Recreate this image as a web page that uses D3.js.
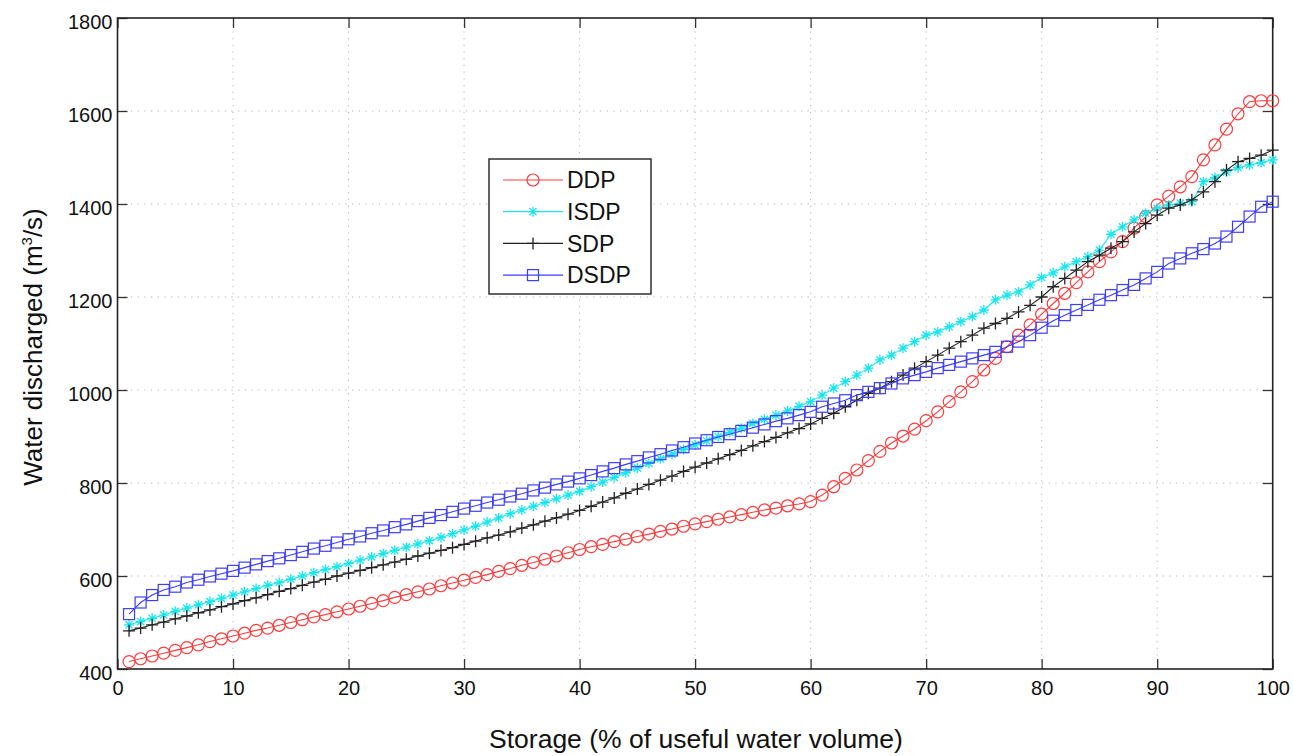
<!DOCTYPE html>
<html>
<head>
<meta charset="utf-8">
<script src="https://cdn.jsdelivr.net/npm/d3@7"></script>
<style>
  html, body { margin: 0; padding: 0; background: #fff; }
  svg { display: block; font-family: "Liberation Sans", Arial, Helvetica, sans-serif; }
</style>
</head>
<body>
<svg id="chart" width="1293" height="756"></svg>
<script>
// ---- Data ----
const storage = d3.range(1, 101); // % of useful water volume (1..100)

const ddp = [
  416, 422, 428, 434, 440, 446, 452, 459, 465, 471,
  477, 483, 488, 494, 500, 506, 512, 517, 523, 529,
  535, 541, 547, 554, 560, 566, 572, 579, 585, 591,
  597, 603, 610, 616, 623, 629, 636, 643, 650, 657,
  663, 668, 674, 679, 685, 690, 696, 701, 707, 712,
  717, 722, 727, 732, 737, 742, 746, 751, 755, 760,
  774, 792, 810, 828, 848, 868, 886, 901, 916, 934,
  953, 975, 996, 1018, 1043, 1068, 1093, 1118, 1140, 1163,
  1186, 1208, 1231, 1254, 1276, 1297, 1319, 1348, 1373, 1398,
  1417, 1437, 1459, 1495, 1527, 1561, 1594, 1620, 1622, 1622
];

const isdp = [
  495, 502, 509, 516, 524, 531, 538, 545, 552, 559,
  566, 573, 580, 586, 593, 600, 607, 614, 620, 627,
  634, 641, 648, 655, 662, 669, 676, 683, 691, 699,
  707, 716, 725, 734, 742, 750, 758, 766, 774, 782,
  792, 802, 812, 822, 832, 842, 852, 862, 872, 882,
  891, 900, 909, 918, 928, 937, 946, 955, 965, 975,
  989, 1004, 1018, 1032, 1047, 1065, 1075, 1090, 1104, 1118,
  1125, 1136, 1147, 1158, 1172, 1194, 1204, 1211, 1226, 1242,
  1252, 1265, 1276, 1287, 1301, 1335, 1351, 1366, 1380, 1391,
  1398, 1402, 1405, 1448, 1457, 1469, 1478, 1484, 1489, 1495
];

const sdp = [
  482, 488, 495, 501, 508, 514, 521, 527, 534, 540,
  547, 553, 560, 567, 573, 580, 587, 593, 600, 606,
  612, 618, 624, 630, 636, 643, 649, 655, 661, 668,
  675, 682, 688, 695, 703, 710, 718, 725, 733, 741,
  750, 759, 768, 778, 787, 797, 806, 815, 825, 834,
  843, 852, 861, 870, 880, 889, 898, 908, 917, 927,
  939, 950, 964, 978, 993, 1004, 1018, 1032, 1047, 1061,
  1075, 1090, 1104, 1118, 1133, 1143, 1154, 1168, 1182, 1200,
  1222, 1240, 1258, 1276, 1290, 1305, 1319, 1340, 1358, 1376,
  1391, 1398, 1409, 1426, 1448, 1473, 1491, 1498, 1505, 1516
];

const dsdp = [
  518, 543, 559, 570, 577, 586, 592, 599, 605, 611,
  618, 625, 632, 638, 645, 652, 659, 665, 672, 679,
  685, 692, 698, 705, 711, 718, 725, 731, 738, 745,
  751, 758, 764, 771, 777, 784, 790, 797, 803, 810,
  817, 825, 832, 840, 847, 855, 862, 870, 877, 885,
  892, 899, 905, 912, 919, 926, 933, 939, 946, 953,
  964, 971, 978, 989, 996, 1004, 1014, 1025, 1032, 1039,
  1047, 1054, 1061, 1068, 1075, 1082, 1093, 1104, 1118, 1134,
  1149, 1161, 1172, 1183, 1194, 1204, 1215, 1226, 1240, 1254,
  1272, 1283, 1294, 1303, 1315, 1330, 1351, 1373, 1394, 1405
];

const seriesNames = ["DDP", "ISDP", "SDP", "DSDP"];
const seriesValues = [ddp, isdp, sdp, dsdp];
const seriesColors = ["#ff3b3b", "#19e6ec", "#222222", "#3d3dff"];
const seriesMarkers = ["circle", "star", "plus", "square"];

const xTicks = [0, 10, 20, 30, 40, 50, 60, 70, 80, 90, 100];
const yTicks = [400, 600, 800, 1000, 1200, 1400, 1600, 1800];

const xLabel = "Storage (% of useful water volume)";

// ---- Layout ----
const svg = d3.select("#chart");
const L = 117.5, R = 1272.7, T = 18, B = 669;

const x = d3.scaleLinear().domain([0, 100]).range([L, R]);
const y = d3.scaleLinear().domain([400, 1800]).range([B, T]);

// Grid
const grid = svg.append("g").attr("stroke", "#b5b5b5").attr("stroke-width", 1)
  .attr("stroke-dasharray", "1.2,5.5");
grid.selectAll("line.v").data(xTicks.slice(1, -1)).join("line")
  .attr("x1", d => x(d)).attr("x2", d => x(d)).attr("y1", T).attr("y2", B);
grid.selectAll("line.h").data(yTicks.slice(1, -1)).join("line")
  .attr("x1", L).attr("x2", R).attr("y1", d => y(d)).attr("y2", d => y(d));

// Axes (inward ticks)
const fmt = d3.format("d");
const axB = svg.append("g").attr("transform", `translate(0,${B})`)
  .call(d3.axisBottom(x).tickValues(xTicks).tickFormat(fmt).tickSizeInner(-10).tickSizeOuter(0).tickPadding(12));
const axT = svg.append("g").attr("transform", `translate(0,${T})`)
  .call(d3.axisTop(x).tickValues(xTicks).tickFormat("").tickSizeInner(-10).tickSizeOuter(0));
const axLft = svg.append("g").attr("transform", `translate(${L},0)`)
  .call(d3.axisLeft(y).tickValues(yTicks).tickFormat(fmt).tickSizeInner(-10).tickSizeOuter(0).tickPadding(5));
const axRgt = svg.append("g").attr("transform", `translate(${R},0)`)
  .call(d3.axisRight(y).tickValues(yTicks).tickFormat("").tickSizeInner(-10).tickSizeOuter(0));

[axB, axT, axLft, axRgt].forEach(a => {
  a.select(".domain").remove();
  a.selectAll(".tick line").attr("stroke", "#333").attr("stroke-width", 1.3);
  a.selectAll(".tick text").attr("fill", "#111").attr("font-size", 20)
    .attr("font-family", "'Liberation Sans', Arial, sans-serif");
});
axLft.selectAll(".tick text").attr("dy", "0.52em");

// Frame
svg.append("rect").attr("x", L).attr("y", T).attr("width", R - L).attr("height", B - T)
  .attr("fill", "none").attr("stroke", "#222").attr("stroke-width", 1.6);

// Marker generator
function drawMarker(g, type, color, cx, cy) {
  if (type === "circle") {
    g.append("circle").attr("cx", cx).attr("cy", cy).attr("r", 6)
      .attr("fill", "none").attr("stroke", color).attr("stroke-width", 1.2);
  } else if (type === "square") {
    g.append("rect").attr("x", cx - 5.5).attr("y", cy - 5.5).attr("width", 11).attr("height", 11)
      .attr("fill", "none").attr("stroke", color).attr("stroke-width", 1.2);
  } else if (type === "plus") {
    g.append("path").attr("d", `M${cx-6},${cy}H${cx+6}M${cx},${cy-6}V${cy+6}`)
      .attr("stroke", color).attr("stroke-width", 1.3).attr("fill", "none");
  } else if (type === "star") {
    const a = 5, b = 3.6;
    g.append("path").attr("d",
      `M${cx-a},${cy}H${cx+a}M${cx},${cy-a}V${cy+a}M${cx-b},${cy-b}L${cx+b},${cy+b}M${cx-b},${cy+b}L${cx+b},${cy-b}`)
      .attr("stroke", color).attr("stroke-width", 1.3).attr("fill", "none");
  }
}

// Series
const line = d3.line().x((d, i) => x(storage[i])).y(d => y(d));
const plot = svg.append("g");
seriesValues.forEach((vals, si) => {
  const g = plot.append("g");
  g.append("path").datum(vals).attr("d", line)
    .attr("fill", "none").attr("stroke", seriesColors[si]).attr("stroke-width", 1.1);
  vals.forEach((v, i) => drawMarker(g, seriesMarkers[si], seriesColors[si], x(storage[i]), y(v)));
});

// Legend
const lg = svg.append("g");
lg.append("rect").attr("x", 489).attr("y", 159).attr("width", 162).attr("height", 135)
  .attr("fill", "#fff").attr("stroke", "#222").attr("stroke-width", 1.4);
seriesNames.forEach((name, si) => {
  const ly = 180 + si * 31.7;
  lg.append("line").attr("x1", 503).attr("x2", 563).attr("y1", ly).attr("y2", ly)
    .attr("stroke", seriesColors[si]).attr("stroke-width", 1.2);
  drawMarker(lg, seriesMarkers[si], seriesColors[si], 533, ly);
  lg.append("text").attr("x", 567).attr("y", ly).attr("dy", "0.36em")
    .attr("font-size", 23).attr("fill", "#111").text(name);
});

// Axis labels
svg.append("text").attr("x", 696).attr("y", 748)
  .attr("text-anchor", "middle").attr("font-size", 26.5).attr("fill", "#111").text(xLabel);

const yl = svg.append("text").attr("transform", "translate(42,347) rotate(-90)")
  .attr("text-anchor", "middle").attr("font-size", 26).attr("fill", "#111");
yl.append("tspan").text("Water discharged (m");
yl.append("tspan").attr("font-size", 15).attr("dy", -10).text("3");
yl.append("tspan").attr("dy", 10).text("/s)");
</script>
</body>
</html>
